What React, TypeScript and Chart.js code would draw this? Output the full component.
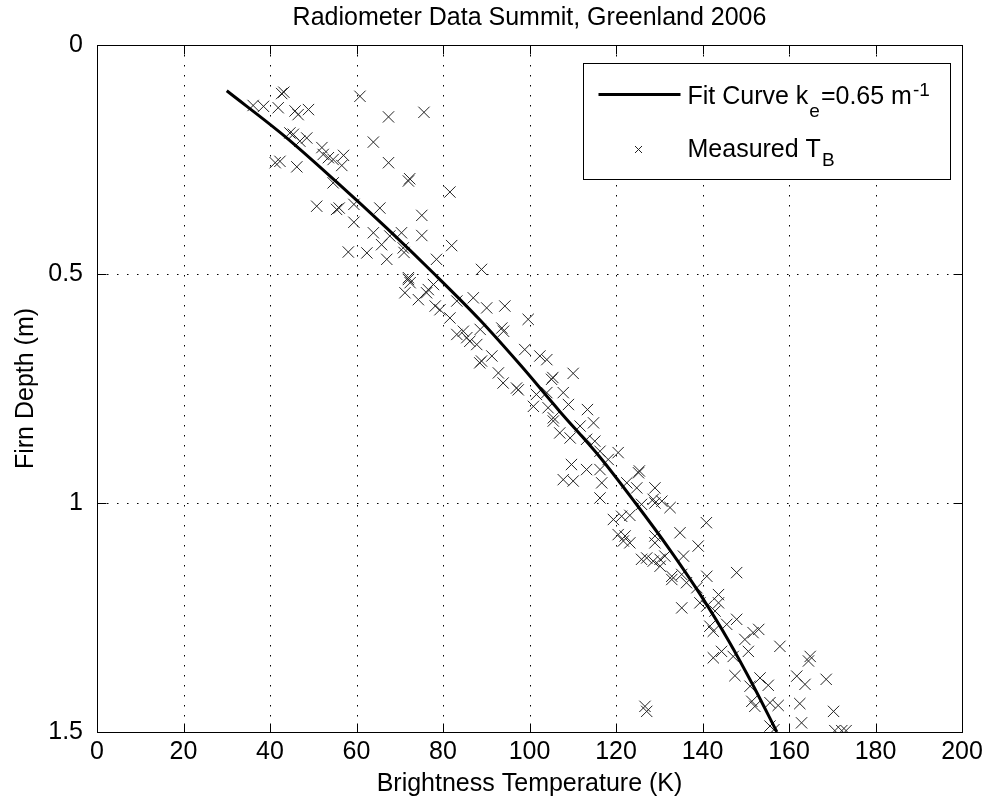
import React, { useEffect, useRef } from 'react';
import { Chart, registerables } from 'chart.js';

Chart.register(...registerables);

const FONT = "'Liberation Sans', Arial, Helvetica, sans-serif";

const titleText = 'Radiometer Data Summit, Greenland 2006';
const xAxisTitle = 'Brightness Temperature (K)';
const yAxisTitle = 'Firn Depth (m)';
const xMin = 0;
const xMax = 200;
const xStep = 20;
const yMin = 0;
const yMax = 1.5;
const yStep = 0.5;

const fitLegendMain = 'Fit Curve k';
const fitLegendSub = 'e';
const fitLegendRest = '=0.65 m';
const fitLegendSup = '-1';
const measLegendMain = 'Measured T';
const measLegendSub = 'B';

// Fit curve (brightness temperature K, depth m)
const fitTemperature = [30, 43.5, 55.5, 67, 78, 88.5, 98, 107, 116.3, 124.5, 132.3, 139.5, 146, 151.8, 157.2];
const fitDepth = [0.1, 0.2, 0.3, 0.4, 0.5, 0.6, 0.7, 0.8, 0.9, 1.0, 1.1, 1.2, 1.3, 1.4, 1.5];

// Measured brightness temperature
const measuredTemperature = [
  42.7, 43.2, 36.1, 38.5, 41.9, 45.8, 46.5, 48.9, 60.8, 67.4, 75.6, 44.6, 45.4, 46.9, 48.5, 63.9,
  41.2, 42.3, 46.2, 52.0, 52.3, 53.5, 54.6, 57.0, 56.6, 67.4, 72.0, 72.3, 81.6, 54.6, 50.8, 55.4,
  56.0, 59.4, 59.4, 65.4, 75.1, 75.1, 82.0, 63.9, 65.8, 67.7, 70.4, 70.8, 71.0, 67.0, 62.4, 58.1,
  78.5, 72.0, 72.0, 72.4, 71.2, 74.3, 76.2, 76.6, 77.8, 78.2, 79.3, 81.6, 83.2, 87.0, 88.9, 90.1,
  94.3, 83.2, 84.7, 85.5, 86.2, 87.8, 88.6, 88.9, 88.5, 91.3, 92.8, 93.9, 93.6, 94.0, 97.0, 99.7,
  98.9, 102.4, 104.0, 110.1, 105.1, 105.4, 97.4, 101.6, 104.0, 107.8, 109.0, 100.9, 104.3, 113.4, 105.5, 105.5,
  107.0, 109.4, 111.7, 114.8, 113.2, 115.1, 116.3, 118.2, 120.5, 109.7, 113.2, 116.3, 107.8, 110.1, 116.7, 116.3,
  125.2, 125.4, 122.5, 124.8, 129.0, 125.9, 129.0, 119.4, 121.3, 123.2, 120.5, 122.1, 123.2, 121.7, 129.0, 129.0,
  125.9, 128.6, 128.6, 130.6, 132.5, 140.9, 134.8, 139.0, 127.1, 130.2, 131.3, 130.2, 135.6, 132.9, 135.2, 141.0,
  147.9, 132.9, 136.3, 135.2, 138.7, 139.4, 143.7, 143.7, 141.0, 142.9, 147.9, 145.6, 141.7, 142.5, 149.8, 151.7,
  153.0, 157.9, 164.9, 164.5, 142.5, 144.4, 147.1, 150.6, 147.5, 153.3, 155.2, 151.0, 161.8, 163.7, 168.6, 126.7,
  127.1, 151.4, 152.1, 155.6, 157.5, 162.5, 170.3, 162.9, 155.6, 170.6, 172.2, 173.2, 156.5
];

// Measured firn depth
const measuredDepth = [
  0.106, 0.103, 0.132, 0.134, 0.137, 0.144, 0.152, 0.141, 0.112, 0.157, 0.147, 0.192, 0.195, 0.210, 0.203, 0.212,
  0.257, 0.254, 0.266, 0.224, 0.239, 0.246, 0.250, 0.241, 0.263, 0.257, 0.297, 0.292, 0.321, 0.301, 0.352, 0.359,
  0.356, 0.348, 0.387, 0.356, 0.372, 0.416, 0.438, 0.410, 0.436, 0.417, 0.410, 0.443, 0.453, 0.468, 0.454, 0.452,
  0.468, 0.508, 0.512, 0.519, 0.541, 0.556, 0.541, 0.534, 0.523, 0.570, 0.578, 0.596, 0.559, 0.552, 0.490, 0.574,
  0.570, 0.632, 0.625, 0.639, 0.647, 0.654, 0.621, 0.690, 0.694, 0.679, 0.716, 0.738, 0.618, 0.625, 0.749, 0.599,
  0.665, 0.679, 0.687, 0.717, 0.730, 0.726, 0.753, 0.763, 0.759, 0.759, 0.785, 0.789, 0.792, 0.796, 0.814, 0.821,
  0.847, 0.858, 0.832, 0.825, 0.861, 0.865, 0.887, 0.905, 0.890, 0.916, 0.927, 0.927, 0.949, 0.952, 0.956, 0.989,
  0.934, 0.930, 0.956, 0.967, 0.967, 1.003, 1.000, 1.036, 1.029, 1.027, 1.069, 1.072, 1.087, 1.083, 1.072, 1.087,
  1.123, 1.127, 0.992, 0.996, 1.010, 1.043, 1.065, 1.094, 1.120, 1.123, 1.116, 1.138, 1.116, 1.160, 1.156, 1.160,
  1.152, 1.167, 1.174, 1.229, 1.185, 1.218, 1.200, 1.218, 1.225, 1.236, 1.254, 1.265, 1.269, 1.280, 1.298, 1.283,
  1.276, 1.313, 1.335, 1.345, 1.338, 1.324, 1.335, 1.324, 1.377, 1.382, 1.398, 1.400, 1.378, 1.396, 1.385, 1.444,
  1.455, 1.433, 1.444, 1.436, 1.442, 1.438, 1.455, 1.480, 1.487, 1.497, 1.497, 1.497, 1.495
];

const matlabFrame = {
  id: 'matlabFrame',
  beforeDatasetsDraw(chart: any) {
    const { ctx, chartArea: a, scales } = chart;
    const xs = scales.x;
    const ys = scales.y;
    ctx.save();
    ctx.strokeStyle = '#000';
    ctx.lineWidth = 1;
    ctx.setLineDash([1.5, 8.5]);
    for (const t of xs.ticks) {
      if (t.value <= xMin || t.value >= xMax) continue;
      const px = Math.round(xs.getPixelForValue(t.value)) + 0.5;
      ctx.beginPath();
      ctx.moveTo(px, a.top);
      ctx.lineTo(px, a.bottom);
      ctx.stroke();
    }
    for (const t of ys.ticks) {
      if (t.value <= yMin || t.value >= yMax) continue;
      const py = Math.round(ys.getPixelForValue(t.value)) + 0.5;
      ctx.beginPath();
      ctx.moveTo(a.left, py);
      ctx.lineTo(a.right, py);
      ctx.stroke();
    }
    ctx.restore();
  },
  afterDatasetsDraw(chart: any) {
    const { ctx, chartArea: a, scales } = chart;
    const xs = scales.x;
    const ys = scales.y;
    const L = Math.round(a.left) + 0.5;
    const R = Math.round(a.right) + 0.5;
    const T = Math.round(a.top) + 0.5;
    const B = Math.round(a.bottom) + 0.5;
    const tl = 9;
    ctx.save();
    ctx.setLineDash([]);
    ctx.strokeStyle = '#000';
    ctx.lineWidth = 1;
    ctx.strokeRect(L, T, R - L, B - T);
    ctx.beginPath();
    for (const t of xs.ticks) {
      const px = Math.round(xs.getPixelForValue(t.value)) + 0.5;
      ctx.moveTo(px, B);
      ctx.lineTo(px, B - tl);
      ctx.moveTo(px, T);
      ctx.lineTo(px, T + tl);
    }
    for (const t of ys.ticks) {
      const py = Math.round(ys.getPixelForValue(t.value)) + 0.5;
      ctx.moveTo(L, py);
      ctx.lineTo(L + tl, py);
      ctx.moveTo(R, py);
      ctx.lineTo(R - tl, py);
    }
    ctx.stroke();

    // Legend
    const bx = Math.round(a.right) - 379 + 0.5;
    const by = Math.round(a.top) + 18 + 0.5;
    const bw = 367;
    const bh = 116;
    ctx.fillStyle = '#fff';
    ctx.fillRect(bx, by, bw, bh);
    ctx.strokeRect(bx, by, bw, bh);

    const lx0 = bx + 15;
    const lx1 = bx + 97;
    const ly = by + 31;
    ctx.lineWidth = 3;
    ctx.beginPath();
    ctx.moveTo(lx0, ly);
    ctx.lineTo(lx1, ly);
    ctx.stroke();

    const mx = bx + 55;
    const my = by + 86;
    ctx.lineWidth = 1;
    ctx.strokeStyle = '#222';
    ctx.beginPath();
    ctx.moveTo(mx - 3.5, my - 3.5);
    ctx.lineTo(mx + 3.5, my + 3.5);
    ctx.moveTo(mx + 3.5, my - 3.5);
    ctx.lineTo(mx - 3.5, my + 3.5);
    ctx.stroke();

    ctx.fillStyle = '#000';
    ctx.textAlign = 'left';
    ctx.textBaseline = 'alphabetic';
    const big = `25px ${FONT}`;
    const small = `19px ${FONT}`;
    let tx = bx + 104;
    const base1 = by + 40;
    ctx.font = big;
    ctx.fillText(fitLegendMain, tx, base1);
    tx += ctx.measureText(fitLegendMain).width + 1;
    ctx.font = small;
    ctx.fillText(fitLegendSub, tx, base1 + 13);
    tx += ctx.measureText(fitLegendSub).width + 1;
    ctx.font = big;
    ctx.fillText(fitLegendRest, tx, base1);
    tx += ctx.measureText(fitLegendRest).width + 1;
    ctx.font = small;
    ctx.fillText(fitLegendSup, tx, base1 - 8);

    let tx2 = bx + 104;
    const base2 = by + 93;
    ctx.font = big;
    ctx.fillText(measLegendMain, tx2, base2);
    tx2 += ctx.measureText(measLegendMain).width + 1;
    ctx.font = small;
    ctx.fillText(measLegendSub, tx2, base2 + 9);
    ctx.restore();
  },
};

export default function App() {
  const ref = useRef<HTMLCanvasElement>(null);

  useEffect(() => {
    if (!ref.current) return;
    const fitData = fitTemperature.map((t, i) => ({ x: t, y: fitDepth[i] }));
    const measData = measuredTemperature.map((t, i) => ({ x: t, y: measuredDepth[i] }));
    const tickFont = { family: FONT, size: 25 };
    const chart = new Chart(ref.current, {
      type: 'scatter',
      data: {
        datasets: [
          {
            label: 'Fit Curve',
            data: fitData,
            showLine: true,
            borderColor: '#000',
            backgroundColor: '#000',
            borderWidth: 3,
            pointRadius: 0,
            cubicInterpolationMode: 'monotone',
            clip: 0,
          } as any,
          {
            label: 'Measured',
            data: measData,
            showLine: false,
            pointStyle: 'crossRot',
            pointRadius: 8,
            borderColor: '#222',
            backgroundColor: '#222',
            borderWidth: 1,
            clip: 0,
          } as any,
        ],
      },
      options: {
        responsive: false,
        animation: false,
        devicePixelRatio: 1,
        events: [],
        layout: { padding: { top: 0, left: 0, right: 24, bottom: 0 } },
        plugins: {
          legend: { display: false },
          tooltip: { enabled: false },
          title: {
            display: true,
            text: titleText,
            color: '#000',
            font: { family: FONT, size: 25, weight: 'normal' },
            padding: { top: 3, bottom: 12 },
            fullSize: false,
          },
        },
        scales: {
          x: {
            type: 'linear',
            min: xMin,
            max: xMax,
            ticks: { stepSize: xStep, color: '#000', font: tickFont, padding: -3, maxRotation: 0, callback: (v: any) => String(v) },
            grid: { display: false },
            border: { display: false },
            title: {
              display: true,
              text: xAxisTitle,
              color: '#000',
              font: tickFont,
              padding: { top: 0, bottom: 6 },
            },
            afterFit(s: any) {
              s.height = 73;
              s.paddingLeft = 0;
              s.paddingRight = 0;
            },
          },
          y: {
            type: 'linear',
            reverse: true,
            min: yMin,
            max: yMax,
            ticks: { stepSize: yStep, color: '#000', font: tickFont, padding: 6, callback: (v: any) => String(v) },
            grid: { display: false },
            border: { display: false },
            title: {
              display: true,
              text: yAxisTitle,
              color: '#000',
              font: tickFont,
              padding: { top: 11, bottom: 0 },
            },
            afterFit(s: any) {
              s.width = 97;
              s.paddingTop = 0;
              s.paddingBottom = 0;
            },
          },
        },
      } as any,
      plugins: [matlabFrame],
    });
    return () => chart.destroy();
  }, []);

  return (
    <div style={{ position: 'absolute', left: 0, top: 0, width: 986, height: 805, background: '#fff' }}>
      <canvas ref={ref} width={986} height={805} style={{ display: 'block', width: 986, height: 805 }} />
    </div>
  );
}
